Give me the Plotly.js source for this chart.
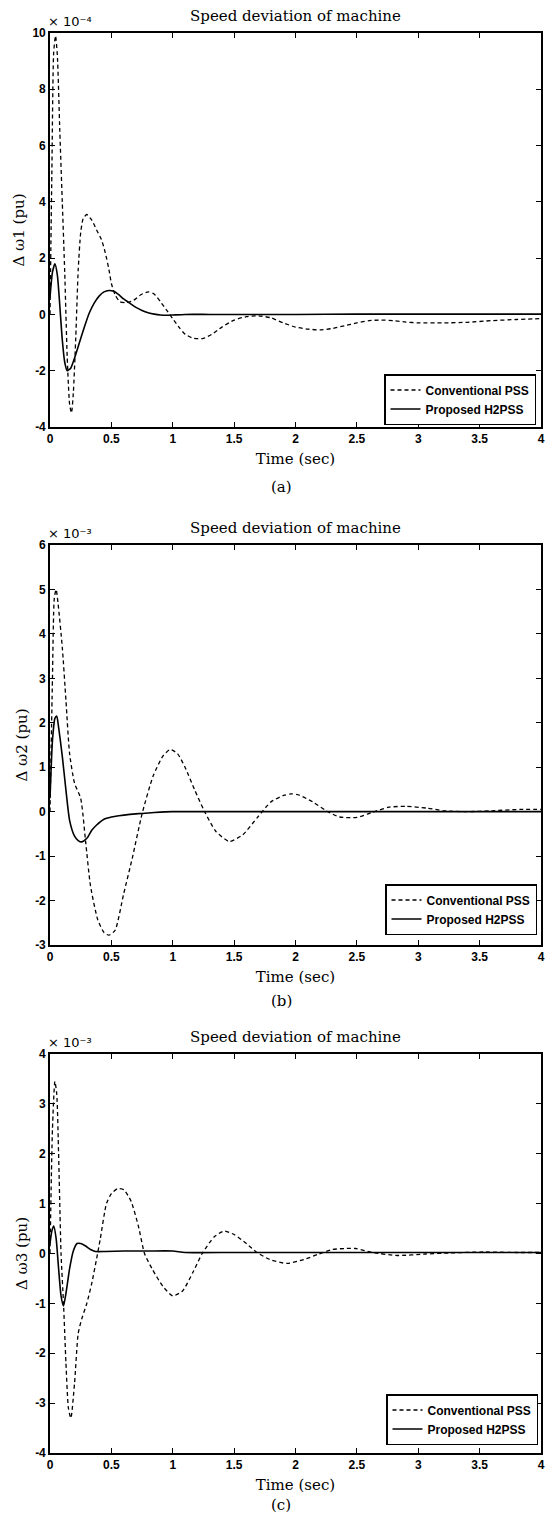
<!DOCTYPE html>
<html>
<head>
<meta charset="utf-8">
<script src="https://cdn.plot.ly/plotly-3.0.1.min.js"></script>
<style>html,body{margin:0;padding:0;background:#fff;}#chart{width:547px;height:1517px;}</style>
</head>
<body>
<div id="chart"></div>
<script>
// ---------- data (values in displayed units: x10^-4 for panel a, x10^-3 for b and c) ----------
const seriesNames = ["Conventional PSS", "Proposed H2PSS"];
const panelTitle = "Speed deviation of machine";
const xTitle = "Time (sec)";
const yTitles = ["\u0394 \u03c91 (pu)", "\u0394 \u03c92 (pu)", "\u0394 \u03c93 (pu)"];
const subLabels = ["(a)", "(b)", "(c)"];
const exponents = ["\u00d7 10\u207b\u2074", "\u00d7 10\u207b\u00b3", "\u00d7 10\u207b\u00b3"];

const xTickVals = [0, 0.5, 1, 1.5, 2, 2.5, 3, 3.5, 4];
const xTickText = ["0", "0.5", "1", "1.5", "2", "2.5", "3", "3.5", "4"];
const yTickValsA = [-4, -2, 0, 2, 4, 6, 8, 10];
const yTickTextA = ["-4", "-2", "0", "2", "4", "6", "8", "10"];
const yTickValsB = [-3, -2, -1, 0, 1, 2, 3, 4, 5, 6];
const yTickTextB = ["-3", "-2", "-1", "0", "1", "2", "3", "4", "5", "6"];
const yTickValsC = [-4, -3, -2, -1, 0, 1, 2, 3, 4];
const yTickTextC = ["-4", "-3", "-2", "-1", "0", "1", "2", "3", "4"];

// Panel (a) machine 1
const tConvA = [0, 0.015, 0.03, 0.045, 0.06, 0.08, 0.1, 0.12, 0.14, 0.16, 0.175, 0.19, 0.21, 0.23, 0.25, 0.27, 0.3, 0.34, 0.38, 0.42, 0.45, 0.48, 0.5, 0.53, 0.57, 0.62, 0.68, 0.74, 0.8, 0.85, 0.9, 0.95, 1.0, 1.05, 1.1, 1.17, 1.25, 1.32, 1.4, 1.5, 1.6, 1.7, 1.8, 1.9, 2.0, 2.1, 2.2, 2.3, 2.4, 2.5, 2.6, 2.7, 2.8, 2.9, 3.0, 3.2, 3.4, 3.6, 3.8, 4.0];
const vConvA = [0, 5, 9.3, 9.9, 9.2, 6.5, 4, 1.5, -1.5, -3.2, -3.5, -2.8, -0.8, 1.6, 2.9, 3.4, 3.55, 3.35, 3.0, 2.65, 2.2, 1.6, 1.1, 0.7, 0.45, 0.42, 0.5, 0.7, 0.8, 0.72, 0.45, 0.15, -0.15, -0.45, -0.7, -0.85, -0.85, -0.7, -0.45, -0.2, -0.08, -0.05, -0.12, -0.3, -0.45, -0.52, -0.55, -0.5, -0.4, -0.3, -0.22, -0.2, -0.22, -0.27, -0.3, -0.3, -0.28, -0.22, -0.18, -0.15];
const tH2A = [0, 0.02, 0.04, 0.06, 0.08, 0.1, 0.12, 0.14, 0.17, 0.2, 0.24, 0.28, 0.32, 0.36, 0.4, 0.44, 0.48, 0.52, 0.56, 0.6, 0.65, 0.7, 0.75, 0.8, 0.85, 0.9, 0.95, 1.0, 1.1, 1.3, 1.6, 2, 2.5, 3, 3.5, 4];
const vH2A = [0.6, 1.5, 1.8, 1.4, 0.3, -0.9, -1.7, -2.0, -1.9, -1.55, -1.0, -0.45, 0.05, 0.4, 0.65, 0.8, 0.85, 0.82, 0.7, 0.55, 0.4, 0.25, 0.14, 0.06, 0.01, -0.02, -0.03, -0.02, 0, 0, 0, 0, 0.01, 0.01, 0.01, 0.01];

// Panel (b) machine 2
const tConvB = [0, 0.02, 0.035, 0.05, 0.065, 0.1, 0.13, 0.16, 0.2, 0.25, 0.29, 0.33, 0.39, 0.44, 0.48, 0.53, 0.6, 0.67, 0.75, 0.84, 0.92, 0.98, 1.04, 1.1, 1.18, 1.26, 1.35, 1.46, 1.57, 1.69, 1.8, 1.91, 1.97, 2.03, 2.14, 2.25, 2.36, 2.5, 2.62, 2.76, 2.9, 3.07, 3.21, 3.4, 3.6, 3.83, 4.0];
const vConvB = [0, 3, 4.8, 5.0, 4.7, 3.7, 2.5, 1.3, 0.64, 0.3, -0.67, -1.67, -2.44, -2.72, -2.78, -2.67, -1.85, -1.05, -0.05, 0.8, 1.25, 1.4, 1.3, 1.0, 0.48, 0, -0.44, -0.67, -0.52, -0.13, 0.22, 0.37, 0.4, 0.37, 0.22, 0.02, -0.12, -0.13, -0.02, 0.1, 0.12, 0.08, 0.02, 0, 0.02, 0.05, 0.05];
const tH2B = [0, 0.02, 0.04, 0.055, 0.07, 0.1, 0.13, 0.16, 0.2, 0.23, 0.26, 0.3, 0.34, 0.38, 0.44, 0.5, 0.56, 0.65, 0.75, 0.85, 1.0, 1.5, 2, 2.5, 3, 3.5, 4];
const vH2B = [0.3, 1.6, 2.1, 2.15, 1.9, 1.25, 0.48, -0.2, -0.55, -0.65, -0.68, -0.6, -0.42, -0.3, -0.17, -0.12, -0.09, -0.06, -0.04, -0.02, 0, 0, 0, 0, 0, 0, 0];

// Panel (c) machine 3
const tConvC = [0, 0.02, 0.04, 0.055, 0.07, 0.09, 0.11, 0.13, 0.15, 0.17, 0.2, 0.23, 0.26, 0.3, 0.34, 0.38, 0.41, 0.46, 0.5, 0.55, 0.6, 0.66, 0.72, 0.77, 0.83, 0.92, 1.0, 1.08, 1.17, 1.24, 1.34, 1.42, 1.5, 1.6, 1.68, 1.79, 1.93, 2.07, 2.18, 2.3, 2.4, 2.49, 2.63, 2.83, 3.06, 3.25, 3.54, 3.8, 4.0];
const vConvC = [0, 2.5, 3.45, 3.2, 2.0, 0, -1.0, -2.2, -3.1, -3.3, -2.6, -1.6, -1.3, -1.0, -0.6, -0.1, 0.3, 1.0, 1.2, 1.3, 1.28, 1.05, 0.55, 0, -0.3, -0.66, -0.85, -0.75, -0.35, 0, 0.34, 0.45, 0.38, 0.2, 0.03, -0.12, -0.2, -0.12, -0.02, 0.08, 0.1, 0.1, 0.02, -0.04, -0.01, 0.01, 0.03, 0.02, 0.02];
const tH2C = [0, 0.015, 0.03, 0.05, 0.07, 0.09, 0.11, 0.13, 0.16, 0.19, 0.22, 0.25, 0.29, 0.33, 0.37, 0.45, 0.6, 0.8, 1.0, 1.1, 1.5, 2, 2.5, 3, 3.5, 4];
const vH2C = [0.2, 0.45, 0.55, 0.3, -0.3, -0.85, -1.05, -0.8, -0.3, 0.05, 0.2, 0.2, 0.15, 0.08, 0.04, 0.04, 0.05, 0.05, 0.05, 0.02, 0.02, 0.02, 0.02, 0.02, 0.02, 0.02];

// ---------- layout helpers ----------
const W = 547, H = 1517;
const px = x => x / W;
const py = y => 1 - y / H;

const sans = "Liberation Sans Narrow, Liberation Sans, Arial, sans-serif";
const tickFont = {family: sans, size: 12, color: "#000", weight: "bold"};
const serif = "DejaVu Serif, Liberation Serif, serif";
const titleFont = {family: serif, size: 15, color: "#000"};

function traces(t1, v1, t2, v2, xa, ya, lg) {
  return [
    {x: t1, y: v1, xaxis: xa, yaxis: ya, legend: lg, name: seriesNames[0], mode: "lines",
     line: {color: "#000", width: 1.3, dash: "4px,3px", shape: "spline", smoothing: 0.6}},
    {x: t2, y: v2, xaxis: xa, yaxis: ya, legend: lg, name: seriesNames[1], mode: "lines",
     line: {color: "#000", width: 1.6, shape: "spline", smoothing: 0.6}}
  ];
}

const data = [].concat(
  traces(tConvA, vConvA, tH2A, vH2A, "x", "y", "legend"),
  traces(tConvB, vConvB, tH2B, vH2B, "x2", "y2", "legend2"),
  traces(tConvC, vConvC, tH2C, vH2C, "x3", "y3", "legend3")
);

function xAxis(anchor) {
  return {domain: [px(50), px(541)], range: [0, 4], anchor: anchor,
    tickvals: xTickVals, ticktext: xTickText, ticks: "inside", ticklen: 5, tickwidth: 1.2,
    tickcolor: "#000", showline: true, linecolor: "#000", linewidth: 1.8, mirror: "allticks",
    showgrid: false, zeroline: false, tickfont: tickFont, automargin: false,
    title: {text: xTitle, font: titleFont, standoff: 8}};
}
function yAxis(anchor, top, bottom, range, vals, text, title) {
  return {domain: [py(bottom), py(top)], range: range, anchor: anchor,
    tickvals: vals, ticktext: text, ticks: "inside", ticklen: 5, tickwidth: 1.2,
    tickcolor: "#000", showline: true, linecolor: "#000", linewidth: 1.8, mirror: "allticks",
    showgrid: false, zeroline: false, tickfont: tickFont, automargin: false,
    title: {text: title, font: titleFont, standoff: 4}};
}
function legendAt(x, yBottom) {
  return {x: px(x), y: py(yBottom), xanchor: "left", yanchor: "bottom", bgcolor: "#fff",
    bordercolor: "#000", borderwidth: 1.5, font: {family: sans, size: 12, color: "#000", weight: "bold"},
    tracegroupgap: 0, itemwidth: 30};
}

const panels = [
  {top: 33, bottom: 427, titleY: 16, subY: 487},
  {top: 545, bottom: 945, titleY: 528, subY: 1001},
  {top: 1054, bottom: 1453, titleY: 1037, subY: 1505}
];

const annotations = [];
panels.forEach((p, i) => {
  annotations.push({xref: "paper", yref: "paper", x: px(295), y: py(p.titleY), text: panelTitle, showarrow: false,
    xanchor: "center", yanchor: "middle", font: titleFont});
  annotations.push({xref: "paper", yref: "paper", x: px(46), y: py(p.top - 2), text: exponents[i], showarrow: false,
    xanchor: "left", yanchor: "bottom", font: {family: "DejaVu Sans, sans-serif", size: 13, color: "#000"}});
  annotations.push({xref: "paper", yref: "paper", x: px(281), y: py(p.subY), text: subLabels[i], showarrow: false,
    xanchor: "center", yanchor: "middle", font: titleFont});
});

const layout = {
  width: W, height: H, margin: {l: 0, r: 0, t: 0, b: 0},
  paper_bgcolor: "#fff", plot_bgcolor: "#fff", showlegend: true,
  xaxis: xAxis("y"), xaxis2: xAxis("y2"), xaxis3: xAxis("y3"),
  yaxis: yAxis("x", 33, 427, [-4, 10], yTickValsA, yTickTextA, yTitles[0]),
  yaxis2: yAxis("x2", 545, 945, [-3, 6], yTickValsB, yTickTextB, yTitles[1]),
  yaxis3: yAxis("x3", 1054, 1453, [-4, 4], yTickValsC, yTickTextC, yTitles[2]),
  legend: legendAt(384, 425), legend2: legendAt(385, 935), legend3: legendAt(386, 1445),
  annotations: annotations
};

Plotly.newPlot("chart", data, layout, {staticPlot: true, displayModeBar: false});
</script>
</body>
</html>
